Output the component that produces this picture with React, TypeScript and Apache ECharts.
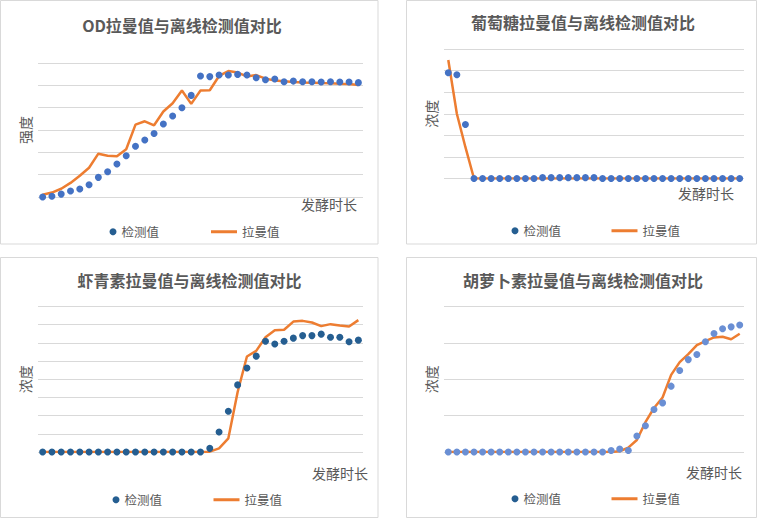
import React, { useEffect, useRef } from 'react';
import * as echarts from 'echarts';

const categories = ['1', '2', '3', '4', '5', '6', '7', '8', '9', '10', '11', '12', '13', '14', '15', '16', '17', '18', '19', '20', '21', '22', '23', '24', '25', '26', '27', '28', '29', '30', '31', '32', '33', '34', '35'];

// OD 强度
const odMeasured = [0, 0.03, 0.13, 0.27, 0.36, 0.55, 0.88, 1.13, 1.48, 1.85, 2.27, 2.55, 2.84, 3.27, 3.63, 4.0, 4.55, 5.42, 5.39, 5.46, 5.46, 5.49, 5.46, 5.34, 5.25, 5.28, 5.16, 5.19, 5.16, 5.16, 5.15, 5.16, 5.15, 5.15, 5.12];
const odRaman = [0.1, 0.2, 0.37, 0.63, 0.95, 1.31, 1.94, 1.85, 1.82, 2.14, 3.24, 3.39, 3.21, 3.83, 4.2, 4.77, 4.17, 4.77, 4.78, 5.42, 5.64, 5.57, 5.4, 5.46, 5.3, 5.22, 5.18, 5.15, 5.13, 5.12, 5.1, 5.09, 5.07, 5.06, 5.01];

// 葡萄糖 浓度
const gluMeasured = [4.9, 4.81, 2.5, 0, 0, 0, 0, 0, 0, 0, 0, 0.04, 0.04, 0.04, 0.04, 0.04, 0.04, 0.04, 0, 0, 0, 0, 0, 0, 0, 0, 0, 0, 0, 0, 0, 0, 0, 0, 0];
const gluRaman = [5.49, 3.0, 1.45, 0, 0, 0, 0, 0, 0, 0, 0, 0, 0, 0, 0, 0, 0, 0, 0, 0, 0, 0, 0, 0, 0, 0, 0, 0, 0, 0, 0, 0, 0, 0, 0];

// 虾青素 浓度
const astMeasured = [0, 0, 0, 0, 0, 0, 0, 0, 0, 0, 0, 0, 0, 0, 0, 0, 0, 0, 0.2, 1.1, 2.24, 3.69, 4.62, 5.27, 6.09, 5.94, 6.09, 6.26, 6.4, 6.4, 6.48, 6.31, 6.31, 6.06, 6.15];
const astRaman = [0, 0, 0, 0, 0, 0, 0, 0, 0, 0, 0, 0, 0, 0, 0, 0, 0, 0, 0.02, 0.2, 0.75, 3.3, 5.25, 5.56, 6.31, 6.7, 6.72, 7.17, 7.21, 7.12, 6.92, 7.03, 6.95, 6.9, 7.25];

// 胡萝卜素 浓度
const carMeasured = [0, 0, 0, 0, 0, 0, 0, 0, 0, 0, 0, 0, 0, 0, 0, 0, 0, 0, 0, 0.04, 0.08, 0.04, 0.44, 0.72, 1.17, 1.35, 1.81, 2.24, 2.54, 2.68, 3.03, 3.26, 3.39, 3.44, 3.49];
const carRaman = [0, 0, 0, 0, 0, 0, 0, 0, 0, 0, 0, 0, 0, 0, 0, 0, 0, 0, 0, 0, 0.02, 0.12, 0.33, 0.82, 1.21, 1.5, 2.12, 2.47, 2.69, 2.94, 3.05, 3.15, 3.17, 3.1, 3.25];

const titles = ['OD拉曼值与离线检测值对比', '葡萄糖拉曼值与离线检测值对比', '虾青素拉曼值与离线检测值对比', '胡萝卜素拉曼值与离线检测值对比'];
const yNames = ['强度', '浓度', '浓度', '浓度'];
const yMax = [6, 6, 8, 4];

const FONT = '"Noto Sans CJK SC", "Noto Sans", sans-serif';
const TEXT = '#595959';
const ORANGE = '#ED7D31';
const LEGEND_DOT = '#255E91';

const panels = [
    { grid: { left: 38, top: 63, width: 325, height: 134 }, titleX: 182, titleY: 17, legendY: 225.5, dotX: 109.5, lineX: 211, xGap: -6, xPad: 0, dotColor: '#4472C4', measured: odMeasured, raman: odRaman },
    { grid: { left: 444, top: 49, width: 300, height: 129.5 }, titleX: 583, titleY: 14, legendY: 224.5, dotX: 511.5, lineX: 611.5, xGap: -10, xPad: 8, dotColor: '#4472C4', measured: gluMeasured, raman: gluRaman },
    { grid: { left: 38, top: 306.5, width: 325, height: 145.5 }, titleX: 189.5, titleY: 272, legendY: 493.5, dotX: 112.5, lineX: 213.5, xGap: 5, xPad: 14, dotColor: '#255E91', measured: astMeasured, raman: astRaman },
    { grid: { left: 444, top: 306.5, width: 300, height: 145.5 }, titleX: 583, titleY: 272, legendY: 492.5, dotX: 511.5, lineX: 611.5, xGap: -2, xPad: 13, dotColor: '#6A8FD4', measured: carMeasured, raman: carRaman },
];

const borders = [
    { x: 0.5, y: 0.5, width: 377.5, height: 243.5 },
    { x: 406.5, y: 0.5, width: 350, height: 243.5 },
    { x: 0.5, y: 257.5, width: 377.5, height: 260 },
    { x: 406.5, y: 257.5, width: 350, height: 260 },
];

const App = () => {
    const chartRef = useRef<HTMLDivElement>(null);

    useEffect(() => {
        if (!chartRef.current) return;
        document.body.style.margin = '0';
        const myChart = echarts.init(chartRef.current, null, { renderer: 'svg' });

        const legends: any[] = [];
        const series: any[] = [];
        panels.forEach((p, i) => {
            legends.push({
                left: p.dotX, top: p.legendY, padding: 0, selectedMode: false,
                itemWidth: 7, itemHeight: 7,
                textStyle: { color: TEXT, fontSize: 12.5, fontFamily: FONT },
                data: [{ name: '检测值', icon: 'circle', itemStyle: { color: LEGEND_DOT } }],
            });
            legends.push({
                left: p.lineX, top: p.legendY, padding: 0, selectedMode: false,
                itemWidth: 26, itemHeight: 3,
                textStyle: { color: TEXT, fontSize: 12.5, fontFamily: FONT },
                data: [{ name: '拉曼值', icon: 'rect', itemStyle: { color: ORANGE } }],
            });
            series.push({
                name: '拉曼值', type: 'line', xAxisIndex: i, yAxisIndex: i,
                data: p.raman, symbol: 'none', z: 2,
                lineStyle: { color: ORANGE, width: 2.5 },
                itemStyle: { color: ORANGE },
            });
            series.push({
                name: '检测值', type: 'scatter', xAxisIndex: i, yAxisIndex: i,
                data: p.measured, symbolSize: 7, z: 3,
                itemStyle: { color: p.dotColor, opacity: 1 },
            });
        });

        const option = {
            animation: false,
            textStyle: { fontFamily: FONT },
            title: panels.map((p, i) => ({
                text: titles[i], left: p.titleX, top: p.titleY, padding: 0, textAlign: 'center',
                textStyle: { color: TEXT, fontSize: 16, fontWeight: 'bold', fontFamily: FONT },
            })),
            legend: legends,
            grid: panels.map((p) => ({ ...p.grid, containLabel: false })),
            xAxis: panels.map((p, i) => ({
                type: 'category', gridIndex: i, data: categories, boundaryGap: true,
                name: '发酵时长', nameLocation: 'end', nameGap: p.xGap,
                nameTextStyle: { color: TEXT, fontSize: 14, fontFamily: FONT, align: 'right', verticalAlign: 'top', padding: [p.xPad, 0, 0, 0] },
                axisLine: { show: false }, axisTick: { show: false }, axisLabel: { show: false },
                splitLine: { show: false },
            })),
            yAxis: panels.map((p, i) => ({
                type: 'value', gridIndex: i, min: 0, max: yMax[i], interval: 1,
                name: yNames[i], nameLocation: 'middle', nameGap: 6,
                nameTextStyle: { color: TEXT, fontSize: 14, fontFamily: FONT },
                axisLine: { show: false }, axisTick: { show: false }, axisLabel: { show: false },
                splitLine: { show: true, lineStyle: { color: '#D9D9D9', width: 1 } },
            })),
            graphic: borders.map((b) => ({
                type: 'rect', shape: b, silent: true, z: -10,
                style: { fill: 'none', stroke: '#D9D9D9', lineWidth: 1 },
            })),
            series,
        };

        myChart.setOption(option);

        return () => {
            myChart.dispose();
        };
    }, []);

    return <div ref={chartRef} style={{ width: '760px', height: '519px' }} />;
};

export default App;
